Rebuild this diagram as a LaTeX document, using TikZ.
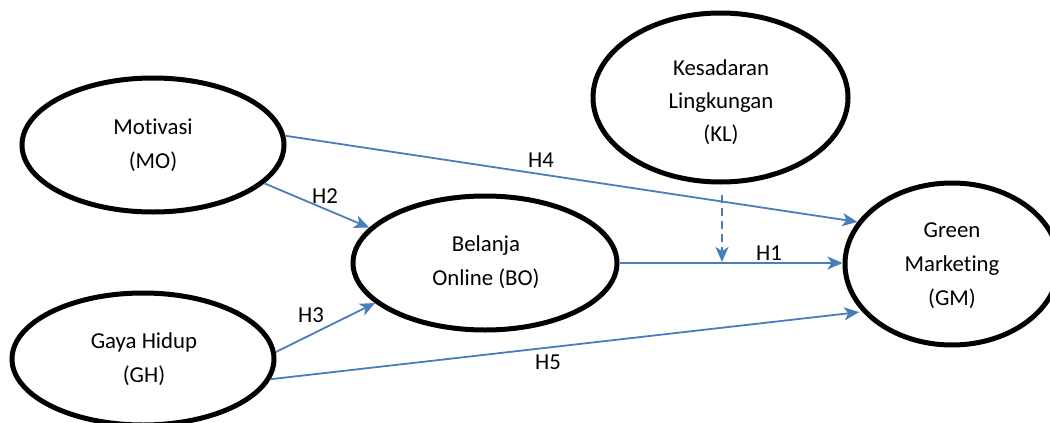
\documentclass[tikz,border=0pt]{standalone}
\usepackage{fontspec}
\setmainfont{Carlito}[Ligatures=NoCommon,RawFeature={-liga;-dlig}]
\usetikzlibrary{arrows.meta,shapes.geometric}
\definecolor{arrblue}{HTML}{4A7EBB}
\tikzset{
  ell/.style={draw=black, line width=5pt, ellipse, inner sep=0pt, fill=white},
  txt/.style={align=center, inner sep=0pt, font=\fontsize{22.8pt}{34pt}\selectfont},
  lbl/.style={inner sep=0pt, font=\fontsize{22.8pt}{34pt}\selectfont},
  conn/.style={draw=arrblue, line width=1.8pt, -{Stealth[length=15pt,width=13pt,inset=4pt]}},
  dconn/.style={conn, dash pattern=on 8pt off 5pt}
}
\begin{document}
\begin{tikzpicture}[x=1pt,y=-1pt]
\useasboundingbox (0,0) rectangle (1050,423);
\clip (0,0) rectangle (1050,423);
% ellipses
\node[ell, minimum width=262pt, minimum height=134pt] (MO) at (153,145) {};
\node[ell, minimum width=262pt, minimum height=132pt] (GH) at (143,359) {};
\node[ell, minimum width=255pt, minimum height=169pt] (KL) at (720.5,97.5) {};
\node[ell, minimum width=264pt, minimum height=134pt] (BO) at (485,263) {};
\node[ell, minimum width=214pt, minimum height=162pt] (GM) at (952,264) {};
% texts
\node[txt] (MOt) at (153,145.5) {Motivasi\\(MO)};
\node[txt] (GHt) at (144,359) {Gaya Hidup\\(GH)};
\node[txt, font=\fontsize{22.8pt}{33pt}\selectfont] (KLt) at (721,102) {Kesadaran\\Lingkungan\\(KL)};
\node[txt] (BOt) at (486,262) {Belanja\\Online (BO)};
\node[txt] (GMt) at (952,266) {Green\\Marketing\\(GM)};
% dashed moderator
\coordinate (KLs) at (722,195);
\coordinate (KLe) at (722,262);
% connectors
\draw[conn] (MO.4) -- (GM.156);
\draw[conn] (MO.-19) -- (BO.163);
\draw[conn] (GH.3) -- (BO.200);
\draw[conn, shorten >=3pt] (GH.-9) -- (GM.208);
\draw[conn] (BO.east) -- (BO.east -| GM.west);
\draw[dconn] (KLs) -- (KLe);
% labels
\node[lbl] (H4) at (541,160) {H4};
\node[lbl] (H2) at (325,196) {H2};
\node[lbl] (H3) at (311,315) {H3};
\node[lbl] (H1) at (769,253) {H1};
\node[lbl] (H5) at (548,362) {H5};
\end{tikzpicture}
\end{document}
